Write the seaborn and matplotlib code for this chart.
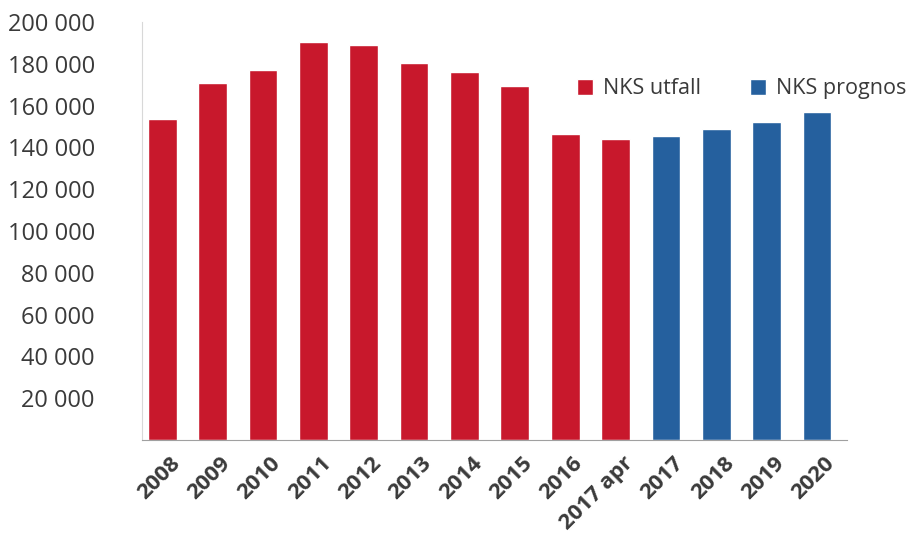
import numpy as np
import pandas as pd
import seaborn as sns
import matplotlib.pyplot as plt
import matplotlib.transforms as mtransforms

# values
years = ["2008", "2009", "2010", "2011", "2012", "2013", "2014", "2015", "2016",
         "2017 apr", "2017", "2018", "2019", "2020"]
values = [153600, 170800, 177000, 190400, 189000, 180400, 176000, 169400, 146400,
          144000, 145500, 148800, 152200, 157000]
series = ["NKS utfall"] * 10 + ["NKS prognos"] * 4
y_ticks = [20000, 40000, 60000, 80000, 100000, 120000, 140000, 160000, 180000, 200000]

df = pd.DataFrame({"Year": years, "Value": values, "Serie": series})
colors = {"NKS utfall": "#C8182C", "NKS prognos": "#25609E"}

sns.set_style("white")
plt.rcParams["font.family"] = ["Open Sans", "DejaVu Sans"]

fig = plt.figure(figsize=(9.11, 5.38), dpi=100)
ax = fig.add_axes([0.156, 0.182, 0.774, 0.777])

sns.barplot(data=df, x="Year", y="Value", hue="Serie", palette=colors,
            dodge=False, width=0.57, order=years, ax=ax, saturation=1)

ax.set_xlim(-0.4, 13.6)
ax.set_ylim(0, 200000)
ax.set_xlabel("")
ax.set_ylabel("")

# y axis
ax.set_yticks(y_ticks)
ax.set_yticklabels([f"{v:,}".replace(",", " ") for v in y_ticks])
ax.tick_params(axis="y", length=0, pad=34, labelsize=17, labelcolor="#3a3a3a")

# x axis: labels at bars, small ticks at category boundaries
ax.set_xticks(range(len(years)))
ax.set_xticklabels(years, rotation=45, ha="right", rotation_mode="anchor",
                   fontweight="bold")
ax.tick_params(axis="x", which="major", length=0, pad=9, labelsize=16,
               labelcolor="#3a3a3a")
ax.set_xticks(np.arange(len(years) + 1) - 0.4, minor=True)
ax.tick_params(axis="x", which="minor", length=6, width=1, color="#A0A0A0",
               direction="out")
offset = mtransforms.ScaledTranslation(0.07, 0, fig.dpi_scale_trans)
for lbl in ax.get_xticklabels():
    lbl.set_transform(lbl.get_transform() + offset)

for side in ["top", "right"]:
    ax.spines[side].set_visible(False)
ax.spines["bottom"].set_color("#A0A0A0")
ax.spines["left"].set_color("#D8D8D8")
ax.spines["left"].set_linewidth(0.8)

handles, labels = ax.get_legend_handles_labels()
ax.legend(handles, labels, ncol=2, frameon=False, loc="center left",
          bbox_to_anchor=(0.612, 0.835), bbox_transform=fig.transFigure,
          handlelength=0.75, handleheight=0.75, handletextpad=0.45,
          columnspacing=2.3, fontsize=15.5, labelcolor="#3a3a3a")

fig.savefig("out.png", dpi=100)
